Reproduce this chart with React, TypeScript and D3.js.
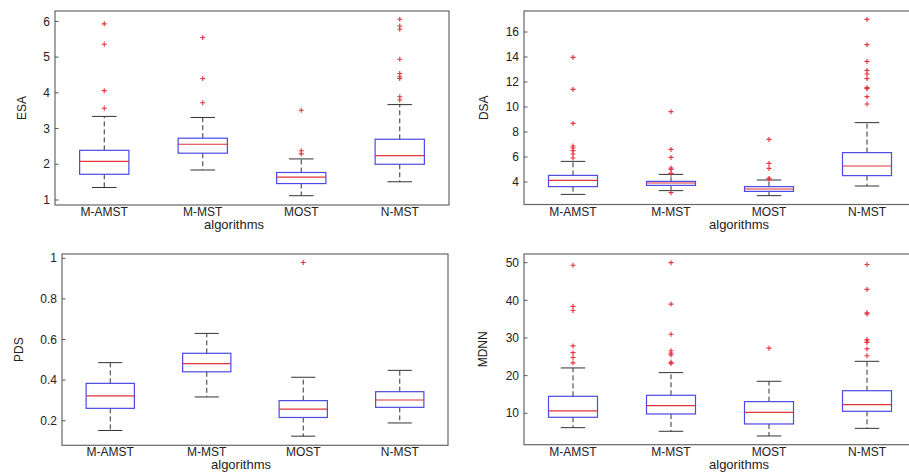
import React from "react";
import * as d3 from "d3";

// algorithm names on every x axis
const algorithms = ["M-AMST", "M-MST", "MOST", "N-MST"];

// [lower whisker, q1, median, q3, upper whisker] per algorithm
const esaBoxes = [
  [1.35, 1.72, 2.08, 2.39, 3.34],
  [1.84, 2.31, 2.56, 2.73, 3.31],
  [1.12, 1.46, 1.64, 1.77, 2.15],
  [1.51, 2.0, 2.24, 2.7, 3.67],
];
const esaOutliers = [
  [3.57, 4.06, 5.36, 5.93],
  [3.72, 4.4, 5.55],
  [2.29, 2.38, 3.51],
  [3.8, 3.89, 4.4, 4.45, 4.54, 4.94, 5.78, 5.87, 6.06],
];
const esaTicks = [1, 2, 3, 4, 5, 6];

const dsaBoxes = [
  [3.01, 3.63, 4.13, 4.53, 5.65],
  [3.31, 3.73, 3.92, 4.05, 4.61],
  [2.91, 3.25, 3.44, 3.63, 4.16],
  [3.68, 4.51, 5.28, 6.35, 8.75],
];
const dsaOutliers = [
  [5.92, 6.24, 6.51, 6.72, 6.88, 8.69, 11.41, 13.97],
  [3.15, 4.69, 5.01, 5.12, 5.97, 6.61, 9.63],
  [4.24, 4.29, 5.09, 5.49, 7.41],
  [10.24, 10.83, 11.47, 11.55, 12.27, 12.64, 12.93, 13.65, 14.99, 17.01],
];
const dsaTicks = [4, 6, 8, 10, 12, 14, 16];

const pdsBoxes = [
  [0.152, 0.261, 0.322, 0.384, 0.486],
  [0.317, 0.441, 0.481, 0.532, 0.63],
  [0.124, 0.216, 0.257, 0.299, 0.414],
  [0.189, 0.266, 0.302, 0.343, 0.448],
];
const pdsOutliers = [[], [], [0.979], []];
const pdsTicks = [0.2, 0.4, 0.6, 0.8, 1];

const mdnnBoxes = [
  [6.19, 8.94, 10.62, 14.51, 22.04],
  [5.22, 9.82, 12.04, 14.78, 20.8],
  [3.98, 7.17, 10.27, 13.1, 18.5],
  [6.0, 10.53, 12.3, 16.0, 23.8],
];
const mdnnOutliers = [
  [23.4, 24.8, 26.1, 27.9, 37.3, 38.4, 49.3],
  [23.2, 23.6, 25.5, 26.0, 26.6, 31.0, 39.0, 50.0],
  [27.3],
  [25.3, 27.1, 28.8, 29.2, 29.6, 36.4, 36.7, 42.9, 49.5],
];
const mdnnTicks = [10, 20, 30, 40, 50];

const font = "'Liberation Sans', Arial, sans-serif";

function BoxPanel({ yLabel, boxes, outliers, ticks, domain, left, right, top, bottom, xLabelX, yLabelX }) {
  const x = d3.scaleLinear().domain([0.5, algorithms.length + 0.5]).range([left, right]);
  const y = d3.scaleLinear().domain(domain).range([bottom, top]);
  const unit = x(1) - x(0);
  const boxW = unit * 0.5;
  const capW = unit * 0.25;

  return (
    <g>
      <rect x={left} y={top} width={right - left} height={bottom - top} fill="white" stroke="#666" strokeWidth={1.2} />
      {ticks.map((t) => (
        <g key={t}>
          <line x1={left} x2={left + 3.5} y1={y(t)} y2={y(t)} stroke="#555" />
          <text x={left - 5} y={y(t)} dy="0.35em" textAnchor="end" fontSize={12} fontFamily={font} fill="#222">
            {t}
          </text>
        </g>
      ))}
      {boxes.map(([lo, q1, med, q3, hi], i) => {
        const cx = x(i + 1);
        return (
          <g key={i}>
            <line x1={cx} x2={cx} y1={y(q3)} y2={y(hi)} stroke="#333" strokeDasharray="5,3" />
            <line x1={cx} x2={cx} y1={y(q1)} y2={y(lo)} stroke="#333" strokeDasharray="5,3" />
            <line x1={cx - capW / 2} x2={cx + capW / 2} y1={y(hi)} y2={y(hi)} stroke="#333" />
            <line x1={cx - capW / 2} x2={cx + capW / 2} y1={y(lo)} y2={y(lo)} stroke="#333" />
            <rect x={cx - boxW / 2} y={y(q3)} width={boxW} height={y(q1) - y(q3)} fill="none" stroke="#4a4ae6" strokeWidth={1.2} />
            <line x1={cx - boxW / 2} x2={cx + boxW / 2} y1={y(med)} y2={y(med)} stroke="#e0333a" strokeWidth={1.2} />
            {outliers[i].map((v, j) => (
              <path
                key={j}
                d={`M${cx - 2.5},${y(v)}h5M${cx},${y(v) - 2.5}v5`}
                stroke="#e6333f"
                strokeWidth={1.1}
              />
            ))}
            <text x={cx} y={bottom + 11} textAnchor="middle" fontSize={12} fontFamily={font} fill="#222">
              {algorithms[i]}
            </text>
          </g>
        );
      })}
      <text x={xLabelX} y={bottom + 24} textAnchor="middle" fontSize={13} fontFamily={font} fill="#222">
        algorithms
      </text>
      <text
        transform={`translate(${yLabelX},${(top + bottom) / 2}) rotate(-90)`}
        dy="0.35em"
        textAnchor="middle"
        fontSize={12}
        fontFamily={font}
        fill="#222"
      >
        {yLabel}
      </text>
    </g>
  );
}

export default function App() {
  return (
    <svg width={909} height={474} style={{ position: "absolute", left: 0, top: 0, background: "white" }}>
      <BoxPanel yLabel="ESA" boxes={esaBoxes} outliers={esaOutliers} ticks={esaTicks} domain={[0.86, 6.29]}
        left={55} right={449} top={11} bottom={205} xLabelX={234} yLabelX={21.5} />
      <BoxPanel yLabel="DSA" boxes={dsaBoxes} outliers={dsaOutliers} ticks={dsaTicks} domain={[2.2, 17.68]}
        left={524} right={916} top={11} bottom={204.5} xLabelX={739} yLabelX={484} />
      <BoxPanel yLabel="PDS" boxes={pdsBoxes} outliers={pdsOutliers} ticks={pdsTicks} domain={[0.079, 1.021]}
        left={62} right={448} top={254} bottom={445.3} xLabelX={241} yLabelX={18.5} />
      <BoxPanel yLabel="MDNN" boxes={mdnnBoxes} outliers={mdnnOutliers} ticks={mdnnTicks} domain={[1.66, 52.3]}
        left={524} right={916} top={254} bottom={444.7} xLabelX={739} yLabelX={483} />
    </svg>
  );
}
